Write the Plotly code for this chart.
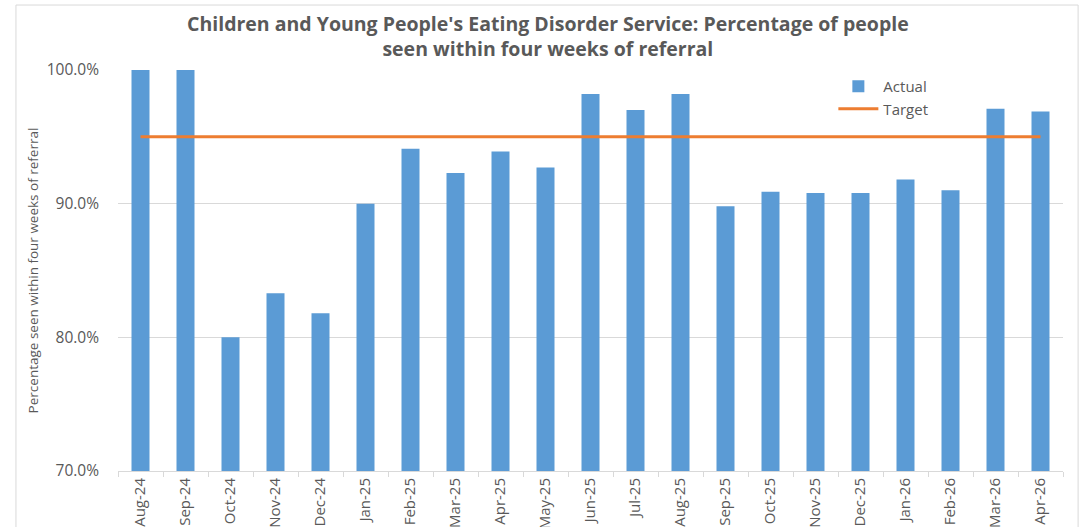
import plotly.graph_objects as go

months = ["Aug-24", "Sep-24", "Oct-24", "Nov-24", "Dec-24", "Jan-25", "Feb-25", "Mar-25",
          "Apr-25", "May-25", "Jun-25", "Jul-25", "Aug-25", "Sep-25", "Oct-25", "Nov-25",
          "Dec-25", "Jan-26", "Feb-26", "Mar-26", "Apr-26"]
actual = [100.0, 100.0, 80.0, 83.3, 81.8, 90.0, 94.1, 92.3, 93.9, 92.7, 98.2, 97.0,
          98.2, 89.8, 90.9, 90.8, 90.8, 91.8, 91.0, 97.1, 96.9]
target = [95.0] * len(months)
y_ticks = [70, 80, 90, 100]
y_tick_labels = ["70.0%", "80.0%", "90.0%", "100.0%"]
title_text = ("Children and Young People's Eating Disorder Service: Percentage of people"
              "<br>seen within four weeks of referral")

FONT = "Open Sans"
GREY = "#595959"

fig = go.Figure()
fig.add_trace(go.Bar(x=months, y=actual, name="Actual", marker_color="#5B9BD5",
                     marker_line_width=0))
fig.add_trace(go.Scatter(x=months, y=target, name="Target", mode="lines",
                         line=dict(color="#ED7D31", width=3)))

fig.update_layout(
    width=1089, height=527,
    margin=dict(l=118, r=26, t=70, b=56),
    paper_bgcolor="white", plot_bgcolor="white",
    bargap=0.6,
    legend=dict(x=0.757, y=1.0, xanchor="left", yanchor="top",
                bgcolor="rgba(0,0,0,0)", font=dict(family=FONT, size=15, color=GREY),
                tracegroupgap=6, itemwidth=40),
    font=dict(family=FONT, color=GREY),
    showlegend=True,
)
fig.add_annotation(text=title_text, xref="paper", yref="paper", x=0.455, y=1.085,
                   xanchor="center", yanchor="middle", showarrow=False,
                   font=dict(family=FONT, size=19.5, color=GREY, weight="bold"))
fig.update_xaxes(tickangle=-90, tickfont=dict(family=FONT, size=15, color=GREY),
                 showline=True, linecolor="#D9D9D9", linewidth=1,
                 ticks="outside", tickson="boundaries", ticklen=5, tickcolor="#D9D9D9",
                 automargin=False, showgrid=False)
fig.update_yaxes(range=[70, 100], tickvals=y_ticks, ticktext=y_tick_labels,
                 tickfont=dict(family=FONT, size=15.5, color=GREY),
                 showgrid=True, gridcolor="#D9D9D9", gridwidth=1, zeroline=False,
                 showline=False, ticks="", ticklabelstandoff=18,
                 title=dict(text="Percentage seen within four weeks of referral",
                            font=dict(family=FONT, size=13.5, color=GREY), standoff=4),
                 automargin=False)

fig.add_shape(type="rect", xref="paper", yref="paper", x0=-0.108, x1=1.016, y0=-0.3, y1=1.162,
              line=dict(color="#D9D9D9", width=1), fillcolor="rgba(0,0,0,0)", layer="below")

fig.write_html("out.html")
